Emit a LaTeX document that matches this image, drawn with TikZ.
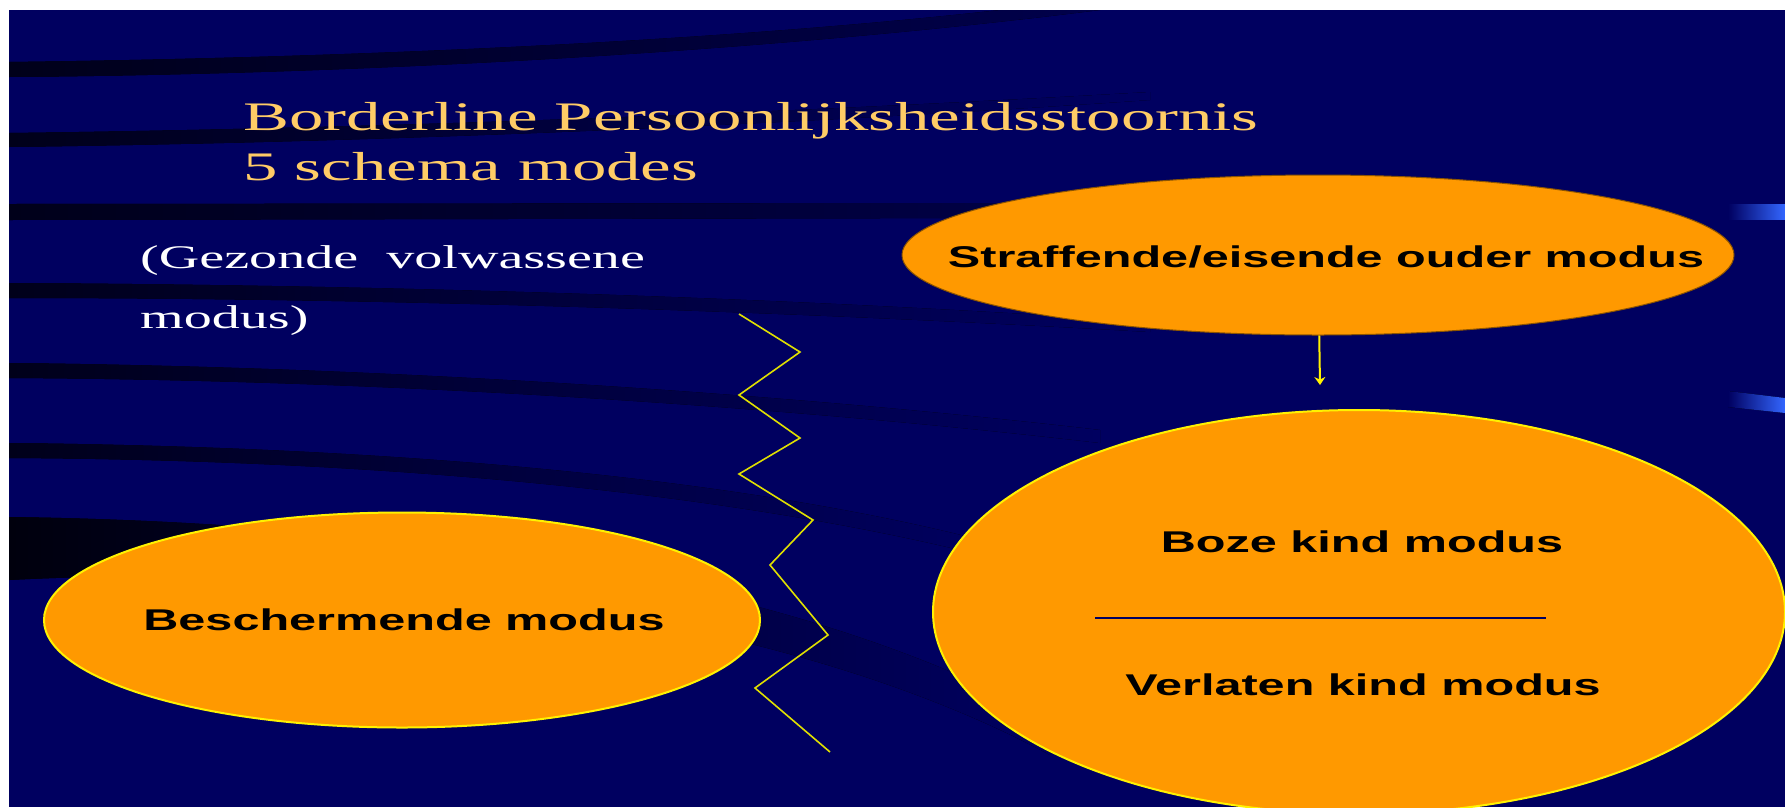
\documentclass[tikz,border=0pt]{standalone}
\usepackage{fontspec}
\usepackage{xcolor}
\usepackage{tikz}
\usetikzlibrary{shapes,arrows.meta,positioning}
\newfontfamily\slideserif[FakeStretch=1.7]{Liberation Serif}
\newfontfamily\slidesans[FakeStretch=1.62]{Liberation Sans}
\definecolor{SlideNavy}{HTML}{000060}
\definecolor{BandDark}{HTML}{00001A}
\definecolor{ModeOrange}{HTML}{FF9900}
\definecolor{TitleGold}{HTML}{FFCC66}
\definecolor{BarBlue}{HTML}{3366FF}
\definecolor{BoltYellow}{HTML}{E0E000}

\begin{document}
\begin{tikzpicture}[
  x=1pt, y=-1pt,
  band/.style={shading=axis, left color=BandDark, right color=SlideNavy},
  bar/.style={shading=axis, left color=SlideNavy, right color=BarBlue},
  titletext/.style={anchor=base west, inner sep=0pt, text=TitleGold, font=\slideserif\fontsize{40.5}{48}\selectfont},
  notetext/.style={anchor=base west, inner sep=0pt, text=white, font=\slideserif\fontsize{33}{40}\selectfont},
  mode/.style={ellipse, fill=ModeOrange, draw=yellow, line width=2pt, inner sep=0pt},
  modetext/.style={anchor=base, inner sep=0pt, text=black, font=\slidesans\bfseries\fontsize{30}{36}\selectfont},
  pointer/.style={-{Stealth[length=8pt,width=11pt]}, line width=2pt, yellow},
  boltline/.style={line width=1.6pt, BoltYellow, line join=miter},
  divider/.style={line width=2pt, SlideNavy}
]
\useasboundingbox (0,0) rectangle (1785,807);
\fill[white] (0,0) rectangle (1785,807);
\fill[SlideNavy] (9,10) rectangle (1785,807);

% Background bands
\fill[band, right color=SlideNavy!70!BandDark] (9,62) .. controls (400,57) and (750,38) .. (1000,10) -- (1100,10) .. controls (800,48) and (400,74) .. (9,77) -- cycle;
\fill[band] (9,133) .. controls (400,128) and (800,112) .. (1150,92) -- (1150,100) .. controls (800,124) and (400,142) .. (9,147) -- cycle;
\fill[band, right color=SlideNavy!60!BandDark] (9,204) -- (1000,203) -- (1000,218) -- (9,220) -- cycle;
\fill[band] (9,283) .. controls (400,285) and (800,298) .. (1150,322) -- (1150,332) .. controls (800,312) and (400,298) .. (9,298) -- cycle;
\fill[band] (9,363) .. controls (400,367) and (800,395) .. (1100,430) -- (1100,443) .. controls (800,408) and (400,380) .. (9,378) -- cycle;
\fill[band] (9,443) .. controls (400,447) and (750,478) .. (1000,545) -- (1000,560) .. controls (750,495) and (400,460) .. (9,458) -- cycle;
\fill[band, left color=BandDark!50!black] (9,517) .. controls (400,522) and (800,580) .. (1050,720) -- (1050,755) .. controls (800,620) and (400,560) .. (9,580) -- cycle;

% Blue bars at the right edge
\fill[bar] (1728,204) -- (1785,204) -- (1785,219) -- (1728,219) -- cycle;
\fill[bar] (1728,391) -- (1785,398) -- (1785,413) -- (1728,407) -- cycle;

% Title
\node[titletext] (title) at (243,130) {Borderline Persoonlijksheidsstoornis};
\node[titletext] (subtitle) at (243,180) {5 schema modes};

% Healthy adult mode
\node[notetext] (healthy) at (140,268) {(Gezonde\ \ volwassene};
\node[notetext] (healthyend) at (140,328) {modus)};

% Modes
\node[mode, draw=ModeOrange!55!black, line width=1pt, minimum width=832pt, minimum height=160pt] (straf) at (1318,255) {};
\node[mode, minimum width=716pt, minimum height=215pt] (bescherm) at (402,620) {};
\node[mode, minimum width=852pt, minimum height=404pt] (kind) at (1359,612) {};

\node[modetext] (straftxt) at (1326,267) {Straffende/eisende ouder modus};
\node[modetext] (beschtxt) at (404,630) {Beschermende modus};
\node[modetext] (boos) at (1362,552) {Boze kind modus};
\node[modetext] (verlaten) at (1363,695) {Verlaten kind modus};
\draw[divider] (1095,618) -- (1546,618);

% Arrow
\coordinate (arrowtip) at (1320,385);
\draw[pointer] (straf) -- (arrowtip);

% Zigzag
\draw[boltline] (739,314) -- (800,352) -- (739,395) -- (800,438) -- (739,474) -- (813,520) -- (770,565) -- (828,635) -- (755,688) -- (830,752);

\end{tikzpicture}
\end{document}
